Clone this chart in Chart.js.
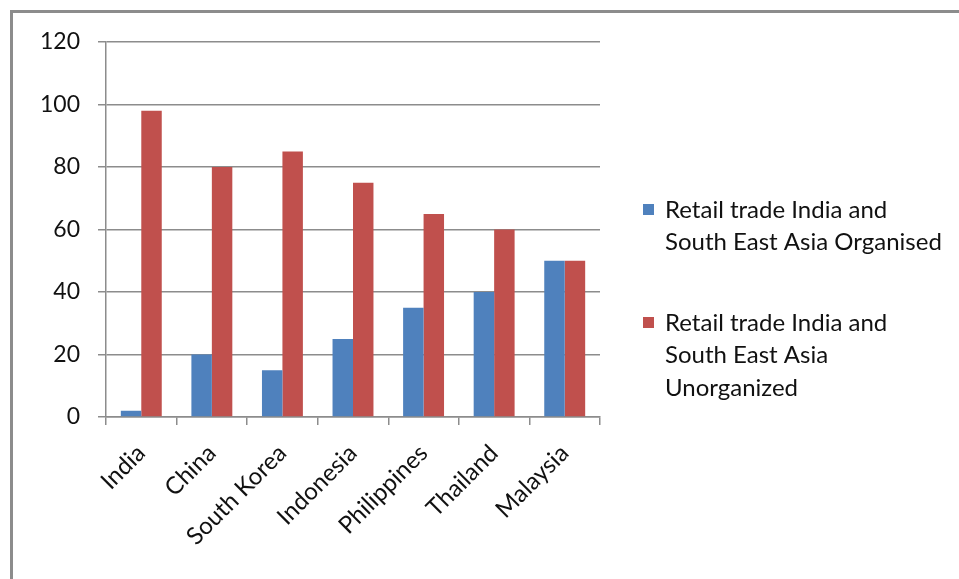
<!DOCTYPE html>
<html>
<head>
<meta charset="utf-8">
<script src="https://cdn.jsdelivr.net/npm/chart.js@4"></script>
<style>
  html, body { margin: 0; padding: 0; background: #fff; }
  #wrap { position: relative; width: 959px; height: 579px; overflow: hidden; }
  #frame {
    position: absolute; left: 10px; top: 10px; width: 960px; height: 580px;
    border-left: 3px solid #8c8c8c; border-top: 3px solid #8c8c8c;
  }
  canvas { position: absolute; left: 0; top: 0; }
</style>
</head>
<body>
<div id="wrap">
  <div id="frame"></div>
  <canvas id="retailChart" width="959" height="579"></canvas>
</div>
<script>
// ----- DATA -----
const countries = ["India", "China", "South Korea", "Indonesia", "Philippines", "Thailand", "Malaysia"];
const organised = [2, 20, 15, 25, 35, 40, 50];
const unorganized = [98, 80, 85, 75, 65, 60, 50];
const seriesNames = [
  "Retail trade India and\nSouth East Asia Organised",
  "Retail trade India and\nSouth East Asia\nUnorganized"
];
const yTicks = [0, 20, 40, 60, 80, 100, 120];

const FONT = "Lato, 'Open Sans', sans-serif";
const gridColor = "#8c8c8c";

// legend drawn beside the plot, lines split on \n
const sideLegend = {
  id: "sideLegend",
  afterDraw(chart) {
    const c = chart.ctx;
    c.save();
    c.font = "24px " + FONT;
    c.textBaseline = "middle";
    const starts = [210, 323];
    chart.data.datasets.forEach((ds, i) => {
      const y0 = starts[i];
      c.fillStyle = ds.backgroundColor;
      c.fillRect(643, y0 - 6, 11, 11);
      c.fillStyle = "#111";
      ds.label.split("\n").forEach((line, k) => {
        c.fillText(line, 665, y0 + k * 32.5);
      });
    });
    c.restore();
  }
};

const ctx = document.getElementById("retailChart").getContext("2d");
new Chart(ctx, {
  type: "bar",
  data: {
    labels: countries,
    datasets: [
      { label: seriesNames[0], data: organised, backgroundColor: "#4F81BD" },
      { label: seriesNames[1], data: unorganized, backgroundColor: "#C0504D" }
    ]
  },
  options: {
    responsive: false,
    animation: false,
    layout: { padding: { left: 0, right: 359, top: 42, bottom: 0 } },
    plugins: { legend: { display: false }, tooltip: { enabled: false } },
    datasets: { bar: { categoryPercentage: 0.58, barPercentage: 1 } },
    scales: {
      x: {
        grid: { display: true, drawOnChartArea: false, offset: true, color: gridColor, tickLength: 8, lineWidth: 1.5 },
        border: { color: gridColor, width: 1.5 },
        ticks: { color: "#111", font: { family: FONT, size: 24 }, minRotation: 45, maxRotation: 45, padding: 14 },
        afterFit: s => { s.height = 162; }
      },
      y: {
        min: 0, max: 120,
        afterBuildTicks: s => { s.ticks = yTicks.map(v => ({ value: v })); },
        grid: { color: gridColor, tickLength: 8, lineWidth: 1.5 },
        border: { color: gridColor, width: 1.5 },
        ticks: { color: "#111", font: { family: FONT, size: 23 }, padding: 18 },
        afterFit: s => { s.width = 106; }
      }
    }
  },
  plugins: [sideLegend]
});
</script>
</body>
</html>
